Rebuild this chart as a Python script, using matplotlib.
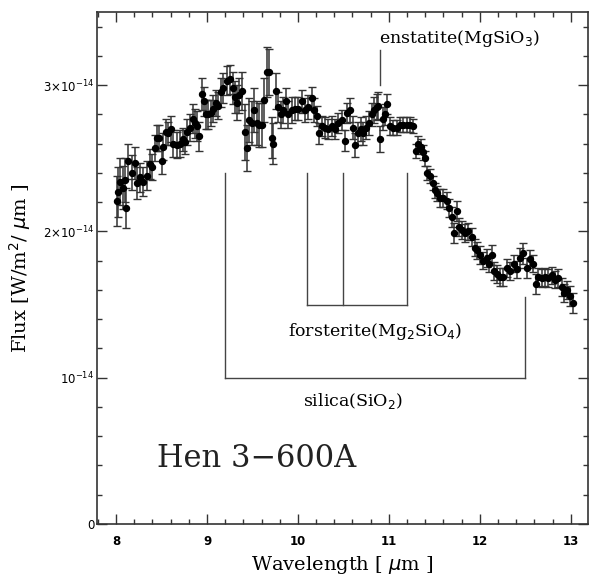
import numpy as np
import matplotlib
matplotlib.use("Agg")
import matplotlib.pyplot as plt
from matplotlib.ticker import MultipleLocator

# spectrum of Hen 3-600A, flux in units of 1e-14 W/m^2/um
wavelength = [8.011, 8.022, 8.044, 8.077, 8.099, 8.110, 8.132, 8.176, 8.209, 8.231,
              8.264, 8.297, 8.341, 8.374, 8.396, 8.429, 8.451, 8.473, 8.505, 8.516,
              8.549, 8.571, 8.604, 8.626, 8.670, 8.703, 8.736, 8.758, 8.780, 8.813,
              8.846, 8.868, 8.890, 8.912, 8.945, 8.967, 8.989, 9.011, 9.044, 9.066,
              9.099, 9.121, 9.154, 9.176, 9.220, 9.253, 9.286, 9.308, 9.330, 9.352,
              9.385, 9.418, 9.440, 9.462, 9.495, 9.516, 9.549, 9.571, 9.604, 9.626,
              9.659, 9.681, 9.714, 9.725, 9.758, 9.780, 9.813, 9.835, 9.868, 9.890,
              9.934, 9.967, 10.000, 10.044, 10.077, 10.110, 10.154, 10.176, 10.209, 10.231,
              10.264, 10.297, 10.330, 10.374, 10.407, 10.440, 10.484, 10.516, 10.538, 10.571,
              10.604, 10.626, 10.659, 10.692, 10.714, 10.747, 10.780, 10.813, 10.835, 10.868,
              10.879, 10.901, 10.934, 10.956, 10.978, 11.011, 11.044, 11.088, 11.121, 11.154,
              11.198, 11.231, 11.264, 11.297, 11.319, 11.352, 11.374, 11.396, 11.418, 11.451,
              11.484, 11.505, 11.527, 11.560, 11.593, 11.637, 11.659, 11.692, 11.714, 11.747,
              11.769, 11.802, 11.835, 11.868, 11.912, 11.945, 11.967, 12.000, 12.033, 12.077,
              12.099, 12.132, 12.154, 12.187, 12.220, 12.253, 12.297, 12.330, 12.374, 12.407,
              12.440, 12.473, 12.516, 12.549, 12.582, 12.615, 12.637, 12.681, 12.714, 12.747,
              12.791, 12.824, 12.857, 12.901, 12.923, 12.956, 12.989, 13.020]

flux = [2.21, 2.27, 2.34, 2.30, 2.35, 2.16, 2.48, 2.40, 2.47, 2.33,
        2.37, 2.34, 2.38, 2.46, 2.44, 2.57, 2.64, 2.64, 2.48, 2.58,
        2.68, 2.67, 2.70, 2.60, 2.59, 2.60, 2.63, 2.61, 2.68, 2.71,
        2.77, 2.74, 2.72, 2.65, 2.94, 2.89, 2.80, 2.80, 2.81, 2.84,
        2.88, 2.86, 2.95, 2.98, 3.03, 3.04, 2.98, 2.92, 2.88, 2.93,
        2.96, 2.68, 2.57, 2.76, 2.74, 2.83, 2.74, 2.73, 2.73, 2.90,
        3.09, 3.09, 2.64, 2.60, 2.96, 2.85, 2.80, 2.83, 2.89, 2.80,
        2.83, 2.84, 2.84, 2.89, 2.83, 2.85, 2.91, 2.83, 2.79, 2.67,
        2.72, 2.71, 2.70, 2.72, 2.70, 2.74, 2.76, 2.62, 2.81, 2.83,
        2.71, 2.59, 2.67, 2.70, 2.67, 2.71, 2.74, 2.80, 2.83, 2.85,
        2.86, 2.63, 2.77, 2.80, 2.87, 2.72, 2.71, 2.71, 2.73, 2.73,
        2.73, 2.73, 2.72, 2.55, 2.60, 2.58, 2.54, 2.50, 2.40, 2.38,
        2.33, 2.28, 2.26, 2.23, 2.23, 2.21, 2.16, 2.10, 1.99, 2.14,
        2.03, 2.01, 1.99, 2.00, 1.96, 1.89, 1.87, 1.84, 1.80, 1.82,
        1.78, 1.84, 1.73, 1.71, 1.69, 1.69, 1.75, 1.73, 1.78, 1.74,
        1.82, 1.85, 1.75, 1.81, 1.78, 1.64, 1.69, 1.68, 1.69, 1.68,
        1.70, 1.67, 1.68, 1.62, 1.58, 1.60, 1.56, 1.51]

flux_err = [0.17, 0.17, 0.16, 0.15, 0.15, 0.14, 0.12, 0.12, 0.11, 0.11,
            0.10, 0.10, 0.10, 0.10, 0.09, 0.09, 0.09, 0.09, 0.09, 0.09,
            0.09, 0.08, 0.09, 0.09, 0.09, 0.09, 0.08, 0.08, 0.09, 0.09,
            0.10, 0.10, 0.10, 0.10, 0.11, 0.10, 0.10, 0.10, 0.09, 0.09,
            0.09, 0.09, 0.10, 0.10, 0.10, 0.10, 0.11, 0.11, 0.12, 0.12,
            0.13, 0.19, 0.16, 0.15, 0.15, 0.15, 0.15, 0.15, 0.15, 0.15,
            0.17, 0.16, 0.14, 0.14, 0.12, 0.10, 0.09, 0.09, 0.09, 0.09,
            0.09, 0.08, 0.08, 0.08, 0.08, 0.08, 0.08, 0.08, 0.07, 0.07,
            0.07, 0.07, 0.07, 0.07, 0.07, 0.07, 0.07, 0.07, 0.07, 0.08,
            0.08, 0.08, 0.08, 0.08, 0.08, 0.08, 0.08, 0.08, 0.09, 0.09,
            0.09, 0.09, 0.08, 0.07, 0.07, 0.06, 0.05, 0.05, 0.05, 0.05,
            0.05, 0.05, 0.05, 0.05, 0.05, 0.05, 0.05, 0.05, 0.05, 0.05,
            0.05, 0.05, 0.05, 0.06, 0.06, 0.06, 0.06, 0.07, 0.07, 0.07,
            0.06, 0.06, 0.06, 0.06, 0.06, 0.06, 0.06, 0.06, 0.06, 0.06,
            0.06, 0.07, 0.06, 0.06, 0.06, 0.06, 0.06, 0.06, 0.06, 0.06,
            0.07, 0.07, 0.07, 0.06, 0.06, 0.07, 0.06, 0.06, 0.06, 0.06,
            0.06, 0.06, 0.06, 0.06, 0.06, 0.06, 0.07, 0.07]

ytick_vals = [0, 1, 2, 3]
ytick_labels = ["0", r"$10^{-14}$", r"$2{\times}10^{-14}$", r"$3{\times}10^{-14}$"]
xtick_vals = [8, 9, 10, 11, 12, 13]

# feature markers (wavelengths in um)
silica_lines = [9.2, 12.5]
forsterite_lines = [10.1, 10.5, 11.2]
enstatite_line = 10.9

fig = plt.figure(figsize=(5.9, 5.76), dpi=100)
ax = fig.add_axes([0.1644, 0.0903, 0.8322, 0.8889])

ax.errorbar(wavelength, flux, yerr=flux_err, fmt='o', color='k', ms=4.3,
            ecolor='#333333', elinewidth=1.1, capsize=2.6, capthick=1.0)

lc = '#444444'
lw = 1.0
# silica bracket
ax.plot([silica_lines[0], silica_lines[0]], [2.4, 1.0], color=lc, lw=lw)
ax.plot([silica_lines[1], silica_lines[1]], [1.55, 1.0], color=lc, lw=lw)
ax.plot(silica_lines, [1.0, 1.0], color=lc, lw=lw)
# forsterite bracket
for w in forsterite_lines:
    ax.plot([w, w], [2.4, 1.5], color=lc, lw=lw)
ax.plot([forsterite_lines[0], forsterite_lines[-1]], [1.5, 1.5], color=lc, lw=lw)
# enstatite
ax.plot([enstatite_line, enstatite_line], [3.0, 3.24], color=lc, lw=lw)

tfont = 'DejaVu Serif'
ax.text(11.78, 3.32, r"enstatite(MgSiO$_3$)", ha='center', va='center',
        fontsize=12.5, family=tfont)
ax.text(10.846, 1.317, r"forsterite(Mg$_2$SiO$_4$)", ha='center', va='center',
        fontsize=12.5, family=tfont)
ax.text(10.604, 0.84, r"silica(SiO$_2$)", ha='center', va='center',
        fontsize=12.5, family=tfont)
ax.text(9.55, 0.389, "Hen 3\u2212600A", ha='center', va='baseline',
        fontsize=22, family=tfont, color='#222222')

ax.set_xlim(7.79, 13.19)
ax.set_ylim(0, 3.5)
ax.set_xticks(xtick_vals)
ax.set_xticklabels([str(v) for v in xtick_vals], fontsize=8.5, fontweight='bold')
ax.set_yticks(ytick_vals)
ax.set_yticklabels(ytick_labels, fontsize=8.5)
ax.xaxis.set_minor_locator(MultipleLocator(0.2))
ax.yaxis.set_minor_locator(MultipleLocator(0.2))
ax.tick_params(which='both', direction='in', top=True, right=True, color='#333333')
ax.tick_params(which='major', length=7, width=1)
ax.tick_params(which='minor', length=3.5, width=1)
ax.tick_params(axis='x', pad=8)
ax.tick_params(axis='y', pad=2)
for s in ax.spines.values():
    s.set_color('#333333')
    s.set_linewidth(1.2)

ax.set_xlabel(r"Wavelength [ $\mu$m ]", fontsize=14, family=tfont, labelpad=4)
ax.set_ylabel(r"Flux [W/m$^2$/ $\mu$m ]", fontsize=14, family=tfont, labelpad=7)

fig.savefig("out.png", dpi=100)
